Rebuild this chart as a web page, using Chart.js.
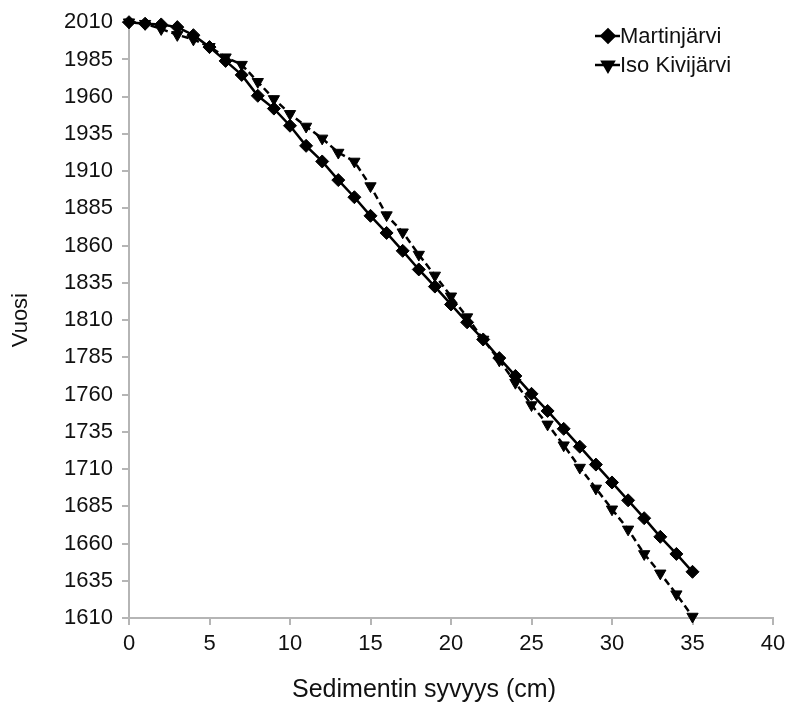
<!DOCTYPE html>
<html>
<head>
<meta charset="utf-8">
<script src="https://cdn.jsdelivr.net/npm/chart.js@4"></script>
<style>
  html, body { margin: 0; padding: 0; background: #fff; }
  #wrap { width: 787px; height: 709px; position: relative; }
</style>
</head>
<body>
<div id="wrap"><canvas id="c"></canvas></div>
<script>
(function () {
  'use strict';

  // --- Data ---
  var depths = [0, 1, 2, 3, 4, 5, 6, 7, 8, 9, 10, 11, 12, 13, 14, 15, 16, 17,
    18, 19, 20, 21, 22, 23, 24, 25, 26, 27, 28, 29, 30, 31, 32, 33, 34, 35];
  var martinjarvi = [2010, 2009, 2008.5, 2006.7, 2001.3, 1993.3, 1984, 1974.6, 1960.6, 1952,
    1940.5, 1927, 1916.5, 1904, 1892.5, 1880, 1868.5, 1856.5, 1844, 1832.5,
    1820.5, 1808.5, 1797, 1784.5, 1772.5, 1760.5, 1749, 1737, 1725, 1713,
    1701, 1689, 1677, 1664.5, 1653, 1641];
  var isoKivijarvi = [2010, 2009, 2005.5, 2001.5, 1998.5, 1993.5, 1986.5, 1981.5, 1970, 1958.5,
    1948.5, 1940, 1932, 1922.5, 1916.5, 1900, 1880.5, 1869, 1854, 1840,
    1826, 1812, 1797, 1783, 1768, 1753, 1740, 1726, 1711, 1697,
    1683, 1669.5, 1653, 1640, 1626, 1611];
  var yearTicks = [1610, 1635, 1660, 1685, 1710, 1735, 1760, 1785, 1810, 1835,
    1860, 1885, 1910, 1935, 1960, 1985, 2010];
  var depthTicks = [0, 5, 10, 15, 20, 25, 30, 35, 40];
  var seriesNames = ['Martinjärvi', 'Iso Kivijärvi'];
  var xTitle = 'Sedimentin syvyys (cm)';
  var yTitle = 'Vuosi';

  var FONT = "'Liberation Sans', Arial, sans-serif";
  var AXIS = '#b5b5b5';

  function pts(ys) {
    return depths.map(function (d, i) { return { x: d, y: ys[i] }; });
  }

  function plain(v) { return String(v); }

  // --- Legend + x title drawn by hand ---
  var extras = {
    id: 'extras',
    afterDraw: function (chart) {
      var ctx = chart.ctx;
      var rows = [36, 65];
      ctx.save();
      for (var i = 0; i < 2; i++) {
        var ds = chart.data.datasets[i];
        var y = rows[i];
        ctx.strokeStyle = '#000';
        ctx.lineWidth = 2.5;
        ctx.setLineDash([]);
        ctx.beginPath();
        ctx.moveTo(595, y);
        ctx.lineTo(620, y);
        ctx.stroke();
        ctx.fillStyle = '#000';
        Chart.helpers.drawPoint(ctx, {
          pointStyle: ds.pointStyle,
          radius: ds.pointRadius,
          rotation: ds.pointRotation || 0,
          borderWidth: 1
        }, 608, y);
        ctx.fillStyle = '#111';
        ctx.font = '22px ' + FONT;
        ctx.textAlign = 'left';
        ctx.textBaseline = 'middle';
        ctx.fillText(ds.label, 620, y + 1);
      }
      ctx.fillStyle = '#111';
      ctx.font = '25px ' + FONT;
      ctx.textAlign = 'center';
      ctx.textBaseline = 'middle';
      ctx.fillText(xTitle, 424, 690);
      ctx.restore();
    }
  };

  new Chart(document.getElementById('c'), {
    type: 'line',
    data: {
      datasets: [
        {
          label: seriesNames[0],
          data: pts(martinjarvi),
          borderColor: '#000',
          backgroundColor: '#000',
          borderWidth: 2.5,
          pointStyle: 'rectRot',
          pointRadius: 6.5,
          pointBorderWidth: 1,
          pointHoverRadius: 6.5,
          tension: 0,
          clip: false
        },
        {
          label: seriesNames[1],
          data: pts(isoKivijarvi),
          borderColor: '#000',
          backgroundColor: '#000',
          borderWidth: 2.5,
          borderDash: [7, 4],
          pointStyle: 'triangle',
          pointRotation: 180,
          pointRadius: 6.5,
          pointBorderWidth: 1,
          pointHoverRadius: 6.5,
          tension: 0,
          clip: false
        }
      ]
    },
    options: {
      responsive: true,
      maintainAspectRatio: false,
      animation: false,
      layout: { padding: { left: 0, top: 18, right: 0, bottom: 0 } },
      plugins: {
        legend: { display: false },
        tooltip: { enabled: false }
      },
      scales: {
        x: {
          type: 'linear',
          min: 0,
          max: 40,
          afterFit: function (s) { s.height = 91; s.paddingRight = 14; s.paddingLeft = 0; },
          afterBuildTicks: function (s) {
            s.ticks = depthTicks.map(function (v) { return { value: v }; });
          },
          ticks: {
            font: { family: FONT, size: 22 },
            color: '#111',
            padding: 6,
            maxRotation: 0,
            callback: plain
          },
          grid: { display: true, drawOnChartArea: false, drawTicks: true, tickLength: 7, color: AXIS, lineWidth: 2 },
          border: { display: true, color: AXIS, width: 2 }
        },
        y: {
          type: 'linear',
          min: 1610,
          max: 2010,
          afterFit: function (s) { s.width = 129; },
          afterBuildTicks: function (s) {
            s.ticks = yearTicks.map(function (v) { return { value: v }; });
          },
          ticks: {
            font: { family: FONT, size: 22 },
            color: '#111',
            padding: 9,
            callback: plain
          },
          title: {
            display: true,
            text: yTitle,
            font: { family: FONT, size: 22 },
            color: '#111',
            padding: { top: 8, bottom: 0 }
          },
          grid: { display: true, drawOnChartArea: false, drawTicks: true, tickLength: 7, color: AXIS, lineWidth: 2 },
          border: { display: true, color: AXIS, width: 2 }
        }
      }
    },
    plugins: [extras]
  });
})();
</script>
</body>
</html>
